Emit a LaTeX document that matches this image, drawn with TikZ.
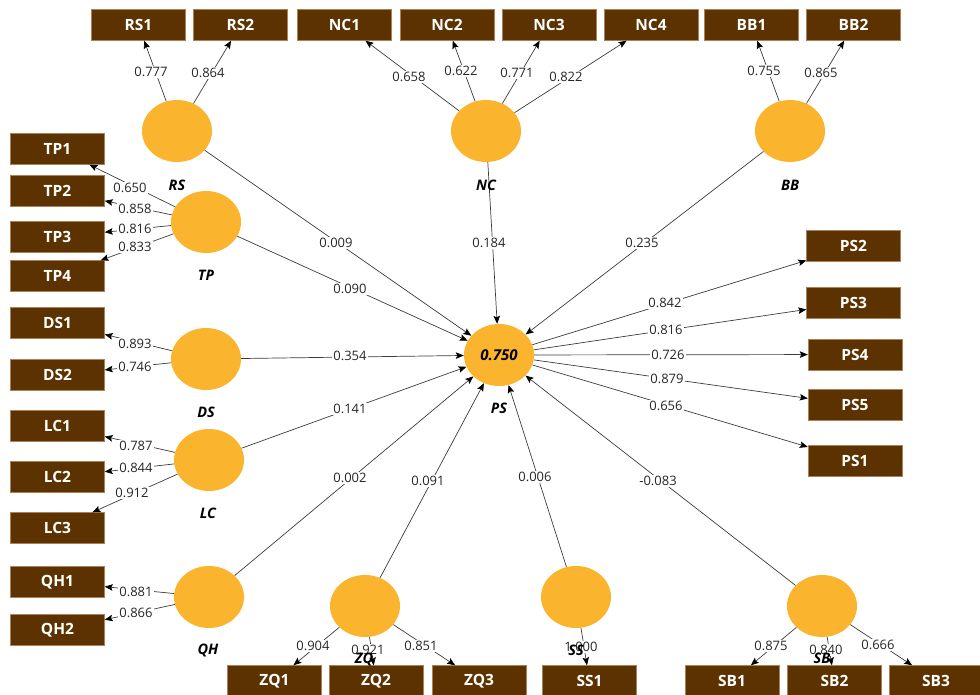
\documentclass[tikz,border=0pt]{standalone}
\usepackage{fontspec}
\setmainfont{Open Sans}
\usetikzlibrary{shapes.geometric,arrows.meta}
\definecolor{boxbrown}{RGB}{92,51,0}
\definecolor{boxedge}{RGB}{170,130,90}
\definecolor{lvorange}{RGB}{251,180,46}
\definecolor{edgegray}{RGB}{60,60,60}
\begin{document}
\begin{tikzpicture}[x=1pt,y=-1pt,
 ind/.style={rectangle, fill=boxbrown, draw=boxedge, line width=0.4pt, minimum width=94pt, minimum height=31pt, inner sep=0pt, text=white, font=\fontsize{15.5}{17}\selectfont\bfseries},
 lv/.style={ellipse, fill=lvorange, minimum width=70pt, minimum height=62pt, inner sep=0pt},
 lvname/.style={font=\fontsize{14.5}{16}\selectfont\bfseries\itshape, text=black, inner sep=0pt},
 lbl/.style={fill=white, inner sep=1pt, text=black!85, font=\fontsize{13}{15}\selectfont},
 conn/.style={draw=edgegray, line width=0.7pt, -{Stealth[length=8pt,width=6.5pt,inset=1.5pt,color=black]}}
]
\useasboundingbox (0,0) rectangle (980,695);
\clip (0,0) rectangle (980,695);

% latent variables
\node[lv] (RS) at (177,131) {};
\node[lv] (TP) at (206,222) {};
\node[lv] (NC) at (486,131) {};
\node[lv] (BB) at (790,131) {};
\node[lv] (DS) at (206,359) {};
\node[lv] (LC) at (209,460) {};
\node[lv] (QH) at (209,597) {};
\node[lv, font=\fontsize{15}{17}\selectfont\bfseries\itshape] (PS) at (499,355) {0.750};
\node[lv] (ZQ) at (365,606) {};
\node[lv] (SS) at (576,597) {};
\node[lv] (SB) at (822,606) {};

% indicators
\node[ind] (RS1) at (138.5,25) {RS1};
\node[ind] (RS2) at (240.5,25) {RS2};
\node[ind] (NC1) at (344.5,25) {NC1};
\node[ind] (NC2) at (447,25) {NC2};
\node[ind] (NC3) at (549,25) {NC3};
\node[ind] (NC4) at (651,25) {NC4};
\node[ind] (BB1) at (751.5,25) {BB1};
\node[ind] (BB2) at (853.5,25) {BB2};
\node[ind] (TP1) at (57.5,149) {TP1};
\node[ind] (TP2) at (57.5,191) {TP2};
\node[ind] (TP3) at (57.5,237) {TP3};
\node[ind] (TP4) at (57.5,276) {TP4};
\node[ind] (DS1) at (57.5,323) {DS1};
\node[ind] (DS2) at (57.5,375) {DS2};
\node[ind] (LC1) at (57.5,426) {LC1};
\node[ind] (LC2) at (57.5,477) {LC2};
\node[ind] (LC3) at (57.5,528) {LC3};
\node[ind] (QH1) at (57.5,582) {QH1};
\node[ind] (QH2) at (57.5,630) {QH2};
\node[ind] (PS2) at (853.5,246) {PS2};
\node[ind] (PS3) at (853.5,302.5) {PS3};
\node[ind] (PS4) at (855,354.5) {PS4};
\node[ind] (PS5) at (855,405) {PS5};
\node[ind] (PS1) at (855,461) {PS1};
\node[ind] (ZQ1) at (274.5,681) {ZQ1};
\node[ind] (ZQ2) at (376,681) {ZQ2};
\node[ind] (ZQ3) at (479,681) {ZQ3};
\node[ind] (SS1) at (589.5,681) {SS1};
\node[ind] (SB1) at (732,681) {SB1};
\node[ind] (SB2) at (834.5,681) {SB2};
\node[ind] (SB3) at (936,681) {SB3};

% outer loadings
\draw[conn] (RS) -- (RS1) node[lbl] at (151,72) {0.777};
\draw[conn] (RS) -- (RS2) node[lbl] at (208,73) {0.864};
\draw[conn] (NC) -- (NC1) node[lbl] at (409,77) {0.658};
\draw[conn] (NC) -- (NC2) node[lbl] at (461,71) {0.622};
\draw[conn] (NC) -- (NC3) node[lbl] at (517,73) {0.771};
\draw[conn] (NC) -- (NC4) node[lbl] at (566,77) {0.822};
\draw[conn] (BB) -- (BB1) node[lbl] at (764,71) {0.755};
\draw[conn] (BB) -- (BB2) node[lbl] at (821,73) {0.865};
\draw[conn] (TP) -- (TP1) node[lbl] at (130,188) {0.650};
\draw[conn] (TP) -- (TP2) node[lbl] at (135,209) {0.858};
\draw[conn] (TP) -- (TP3) node[lbl] at (135,229) {0.816};
\draw[conn] (TP) -- (TP4) node[lbl] at (135,247) {0.833};
\draw[conn] (DS) -- (DS1) node[lbl] at (135,344) {0.893};
\draw[conn] (DS) -- (DS2) node[lbl] at (135,367) {0.746};
\draw[conn] (LC) -- (LC1) node[lbl] at (136,446) {0.787};
\draw[conn] (LC) -- (LC2) node[lbl] at (136,468) {0.844};
\draw[conn] (LC) -- (LC3) node[lbl] at (132,493) {0.912};
\draw[conn] (QH) -- (QH1) node[lbl] at (136,592) {0.881};
\draw[conn] (QH) -- (QH2) node[lbl] at (136,613) {0.866};
\draw[conn] (ZQ) -- (ZQ1) node[lbl] at (313,646) {0.904};
\draw[conn] (ZQ) -- (ZQ2) node[lbl] at (368,650) {0.921};
\draw[conn] (ZQ) -- (ZQ3) node[lbl] at (421,646) {0.851};
\draw[conn] (SS) -- (SS1) node[lbl] at (581,647) {1.000};
\draw[conn] (SB) -- (SB1) node[lbl] at (771,646) {0.875};
\draw[conn] (SB) -- (SB2) node[lbl] at (826,650) {0.840};
\draw[conn] (SB) -- (SB3) node[lbl] at (878,645) {0.666};
\draw[conn] (PS) -- (PS2) node[lbl] at (665,303) {0.842};
\draw[conn] (PS) -- (PS3) node[lbl] at (666,330) {0.816};
\draw[conn] (PS) -- (PS4) node[lbl] at (668,355) {0.726};
\draw[conn] (PS) -- (PS5) node[lbl] at (667,379) {0.879};
\draw[conn] (PS) -- (PS1) node[lbl] at (666,406) {0.656};

% inner paths
\draw[conn] (RS) -- (PS) node[lbl] at (336,243) {0.009};
\draw[conn] (TP) -- (PS) node[lbl] at (350,289) {0.090};
\draw[conn] (NC) -- (PS) node[lbl] at (489,243) {0.184};
\draw[conn] (BB) -- (PS) node[lbl] at (642,243) {0.235};
\draw[conn] (DS) -- (PS) node[lbl] at (350,356) {0.354};
\draw[conn] (LC) -- (PS) node[lbl] at (350,409) {0.141};
\draw[conn] (QH) -- (PS) node[lbl] at (350,478) {0.002};
\draw[conn] (ZQ) -- (PS) node[lbl] at (428,481) {0.091};
\draw[conn] (SS) -- (PS) node[lbl] at (535,477) {0.006};
\draw[conn] (SB) -- (PS) node[lbl] at (658,481) {-0.083};

% latent names
\node[lvname] (RSn) at (177,185) {RS};
\node[lvname] (TPn) at (206,275) {TP};
\node[lvname] (NCn) at (486,185) {NC};
\node[lvname] (BBn) at (790,185) {BB};
\node[lvname] (DSn) at (206,412) {DS};
\node[lvname] (LCn) at (208,513) {LC};
\node[lvname] (QHn) at (208,650) {QH};
\node[lvname] (PSn) at (499,408) {PS};
\node[lvname] (ZQn) at (364,659) {ZQ};
\node[lvname] (SSn) at (576,650) {SS};
\node[lvname] (SBn) at (822,658) {SB};
\end{tikzpicture}
\end{document}
